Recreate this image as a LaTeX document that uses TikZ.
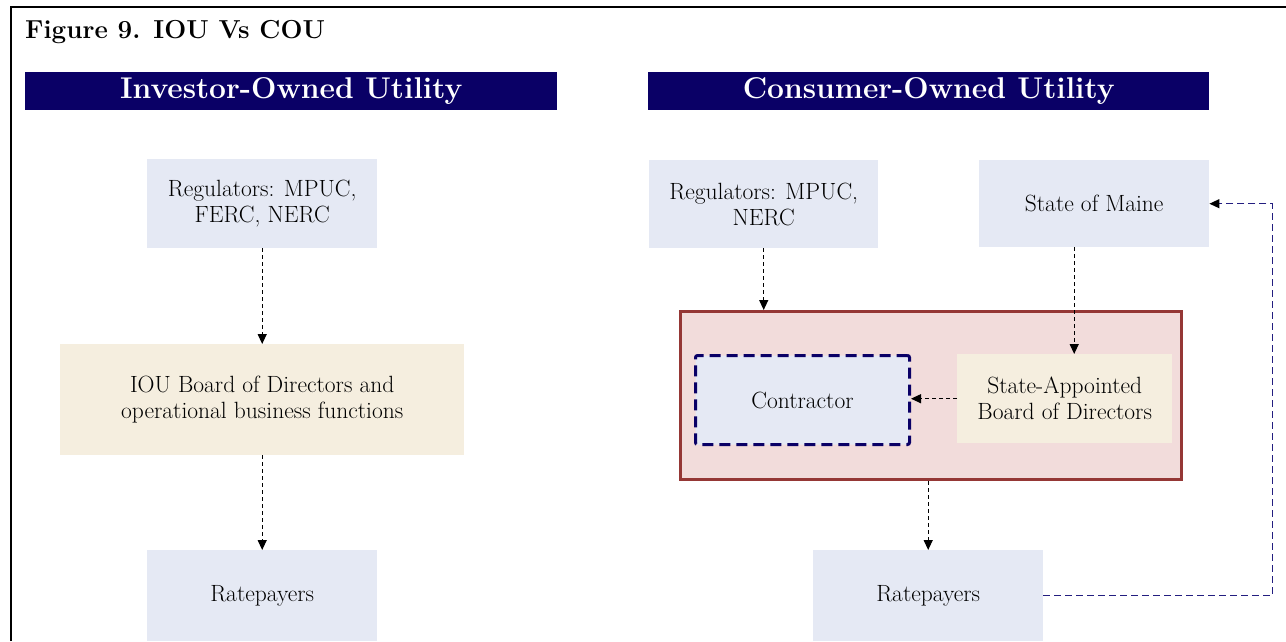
\documentclass[tikz,border=0pt]{standalone}
\usetikzlibrary{arrows.meta,calc}
\definecolor{navy}{HTML}{0A0066}
\definecolor{lblue}{HTML}{E5E9F4}
\definecolor{cream}{HTML}{F5EEDF}
\definecolor{pinkf}{HTML}{F2DCDB}
\definecolor{redb}{HTML}{953735}
\definecolor{fbline}{HTML}{231E80}
\tikzset{
  box/.style={anchor=north west,inner sep=0pt,align=center,font=\fontsize{23.5}{26}\selectfont},
  header/.style={anchor=north west,fill=navy,text=white,inner sep=0pt,minimum height=38pt,font=\bfseries\fontsize{30}{34}\selectfont},
  conn/.style={line width=1.2pt,dash pattern=on 4pt off 3pt,-{Triangle[length=10pt,width=9pt]}},
}
\begin{document}
\begin{tikzpicture}[x=1pt,y=-1pt]
\useasboundingbox (0,0) rectangle (1286,641);
% outer frame
\draw[line width=2pt] (11,641) -- (11,7) -- (1286,7);
\node[anchor=base west,inner sep=0pt,font=\bfseries\fontsize{26}{30}\selectfont] (title) at (25,38) {Figure 9. IOU Vs COU};
% headers
\node[header,minimum width=532pt] (h1) at (25,72) {Investor-Owned Utility};
\node[header,minimum width=561pt] (h2) at (648,72) {Consumer-Owned Utility};
% left column
\node[box,fill=lblue,minimum width=230pt,minimum height=89pt] (reg1) at (147,159) {Regulators: MPUC,\\FERC, NERC};
\node[box,fill=cream,minimum width=404pt,minimum height=111pt] (iou) at (60,344) {IOU Board of Directors and\\operational business functions};
\node[box,fill=lblue,minimum width=230pt,minimum height=91pt] (rp1) at (147,550) {Ratepayers};
% right column
\node[box,fill=lblue,minimum width=229pt,minimum height=88pt] (reg2) at (649,160) {Regulators: MPUC,\\NERC};
\node[box,fill=lblue,minimum width=230pt,minimum height=87pt] (maine) at (979,160) {State of Maine};
\node[box,fill=pinkf,draw=redb,line width=3pt,minimum width=501pt,minimum height=168pt] (cou) at (679,310) {};
\node[box,fill=lblue,draw=navy,line width=3pt,dash pattern=on 11pt off 6pt,rounded corners=2pt,minimum width=214pt,minimum height=89pt] (con) at (694,354) {Contractor};
\node[box,fill=cream,minimum width=215pt,minimum height=89pt] (sab) at (957,354) {State-Appointed\\Board of Directors};
\node[box,fill=lblue,minimum width=230pt,minimum height=91pt] (rp2) at (813,550) {Ratepayers};
% connectors
\draw[conn] (reg1.south) -- (iou.north);
\draw[conn] (iou.south) -- (rp1.north);
\draw[conn] (reg2.south) -- (reg2.south |- cou.north);
\coordinate (mf) at ($(maine.south)+(-20,0)$);
\draw[conn] (mf) -- (mf |- sab.north);
\draw[conn] (sab.west) -- (sab.west -| con.east);
\draw[conn] (rp2.north |- cou.south) -- (rp2.north);
\draw[line width=1.2pt,dash pattern=on 7pt off 4pt,draw=fbline,-{Triangle[length=10pt,width=9pt,color=black]}] (rp2.east) -- ++(229,0) |- (maine.east);
\end{tikzpicture}
\end{document}
